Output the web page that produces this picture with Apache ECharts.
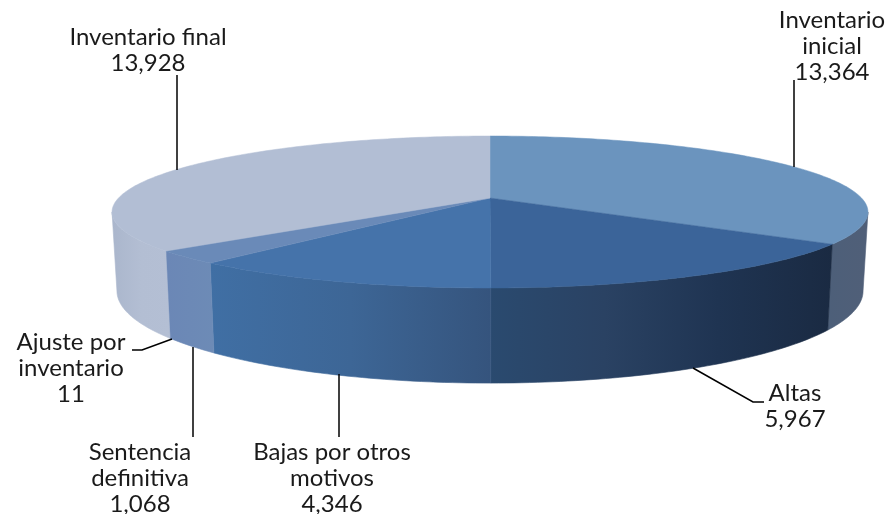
<!DOCTYPE html>
<html>
<head>
<meta charset="utf-8">
<style>
  html, body { margin: 0; padding: 0; background: #fff; }
  #chart { width: 891px; height: 514px; }
</style>
<script src="https://cdn.jsdelivr.net/npm/echarts@6/dist/echarts.min.js"></script>
</head>
<body>
<div id="chart"></div>
<script>
// 数据
const categories = ['Inventario\ninicial', 'Altas', 'Bajas por otros\nmotivos', 'Sentencia\ndefinitiva', 'Ajuste por\ninventario', 'Inventario final'];
const values = [13364, 5967, 4346, 1068, 11, 13928];

// 颜色
const topColors = ['#6b94be', '#3b6499', '#4573aa', '#6a8ab8', '#6a8ab8', '#b2bed4'];
const wallStops = [
  ['#4d5f79', '#505f78'],
  ['#2a4a6f', '#2a4263', '#1f3452', '#1a2a42'],
  ['#406fa4', '#3d6696', '#35547d'],
  ['#6b87b6', '#6d8bb6'],
  ['#6b87b6', '#6b87b6'],
  ['#aab6cc', '#b3bed3', '#b4bfd4']
];

// 标注位置
const labelAnchors = [[832, 20], [795, 393], [332, 452], [140, 452], [71, 342], [148, 37]];
const leaderLines = [
  [[794, 80], [794, 167]],
  [[693, 368], [753, 402], [764, 402]],
  [[339, 374], [339, 437]],
  [[193, 347], [193, 437]],
  [[132, 350], [142, 350], [172, 339]],
  [[177, 75], [177, 170]]
];

// 透视椭圆的参数
const CX = 490, TOP_Y = 198, BOTTOM_Y = 274;
const RX = 371.5, RY_TOP = 73.4, RY_BOTTOM = 89, PERSP = 0.1842, BOTTOM_SCALE = 0.987;
const WALL_FROM = 100.6, WALL_TO = 259.4;
const FONT = '24px Lato, sans-serif';

const total = values.reduce(function(a, b) { return a + b; }, 0);
const startAngles = [];
values.reduce(function(sum, v) {
  startAngles.push(sum / total * 360);
  return sum + v;
}, 0);

function project(deg, isBottom) {
  const rad = deg * Math.PI / 180;
  const den = 1 + PERSP * Math.cos(rad);
  const sx = isBottom ? RX * BOTTOM_SCALE : RX;
  return [
    CX + sx * Math.sin(rad) / den,
    isBottom ? BOTTOM_Y - RY_BOTTOM * Math.cos(rad) / den : TOP_Y - RY_TOP * Math.cos(rad) / den
  ];
}

function arc(from, to, isBottom) {
  const pts = [];
  const n = Math.max(1, Math.ceil(Math.abs(to - from)));
  for (let i = 0; i <= n; i++) {
    pts.push(project(from + (to - from) * i / n, isBottom));
  }
  return pts;
}

function renderSlice(params, api) {
  const i = params.dataIndex;
  const from = startAngles[i];
  const to = from + api.value(0) / total * 360;
  const children = [];

  // 侧面
  const a = Math.max(from, WALL_FROM), b = Math.min(to, WALL_TO);
  if (b > a) {
    const stops = wallStops[i].map(function(c, k, all) {
      return { offset: k / (all.length - 1), color: c };
    });
    const gradient = new echarts.graphic.LinearGradient(0, 0, 1, 0, stops);
    children.push({
      type: 'polygon',
      shape: { points: arc(a, b, false).concat(arc(b, a, true)) },
      style: { fill: gradient, stroke: gradient, lineWidth: 0.6 }
    });
  }

  // 顶面
  children.push({
    type: 'polygon',
    shape: { points: [[CX, TOP_Y]].concat(arc(from, to, false)) },
    style: { fill: topColors[i], stroke: topColors[i], lineWidth: 0.5 }
  });

  // 引导线
  children.push({
    type: 'polyline',
    shape: { points: leaderLines[i] },
    style: { stroke: '#000', lineWidth: 1.5, fill: null }
  });

  // 标签
  children.push({
    type: 'text',
    style: {
      text: categories[i] + '\n' + api.value(0).toLocaleString('en-US'),
      x: labelAnchors[i][0],
      y: labelAnchors[i][1] - 13,
      align: 'center',
      verticalAlign: 'top',
      lineHeight: 26,
      font: FONT,
      fill: '#1a1a1a'
    }
  });

  return { type: 'group', children: children };
}

const chart = echarts.init(document.getElementById('chart'));
chart.setOption({
  animation: false,
  backgroundColor: '#fff',
  series: [{
    type: 'custom',
    coordinateSystem: 'none',
    renderItem: renderSlice,
    data: values.map(function(v) { return [v]; })
  }]
});
</script>
</body>
</html>
